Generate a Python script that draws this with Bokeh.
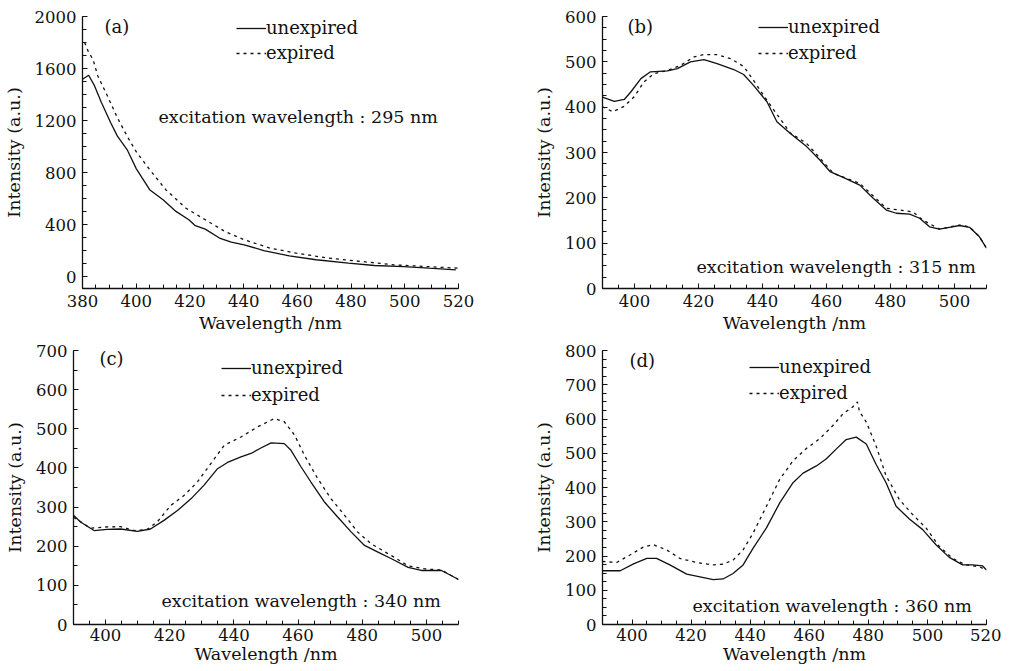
from bokeh.plotting import figure
from bokeh.layouts import column, row
from bokeh.models import Range1d, SingleIntervalTicker, Legend, LegendItem, Label
from bokeh.embed import file_html
from bokeh.resources import INLINE

# ---------------- data ----------------
# (a) excitation 295 nm
a_unexp_x = [380, 382.3, 384.5, 387, 390.5, 393, 396.6, 400, 405, 410, 414.8, 419.6, 422, 425.7,
             431, 435.4, 440.2, 447.5, 457, 467, 479, 488.7, 499.6, 509, 519]
a_unexp_y = [1517, 1548, 1466, 1340, 1183, 1080, 977, 830, 668, 591, 501, 437, 391, 365,
             296, 265, 244, 200, 159, 129, 103, 85, 77, 64, 51]
a_exp_x = [380.8, 382.3, 383.9, 385.7, 389.3, 393, 396.6, 400, 405, 411, 418.4, 425.7, 433,
           440.2, 449.9, 459.6, 471.7, 483.8, 496, 508, 520]
a_exp_y = [1800, 1723, 1671, 1543, 1388, 1221, 1080, 960, 823, 668, 527, 437, 347,
           283, 218, 180, 141, 116, 90, 77, 64]

# (b) excitation 315 nm
b_unexp_x = [390, 393.7, 396.8, 398.9, 402, 405, 410.3, 413.4, 417.5, 421.7, 425.8, 431, 434.1,
             437.2, 441.4, 444.5, 448.7, 453.8, 458, 461.1, 465.2, 470.4, 474.6, 478.7, 481.8,
             486, 489.1, 492.2, 495.3, 498.4, 501.6, 504.7, 507.8, 510]
b_unexp_y = [422, 413, 417, 434, 463, 478, 480, 485, 500, 505, 496, 483, 472,
             448, 412, 368, 342, 313, 283, 258, 245, 228, 199, 173, 166,
             164, 155, 136, 131, 135, 139, 135, 114, 89]
b_exp_x = [390, 393.2, 396.8, 399.9, 403, 406.1, 410.3, 414.4, 418.6, 421.7, 425.8, 430, 434.1,
           437.2, 441.4, 448.7, 453.8, 458, 462.2, 470.4, 478.7, 487, 490.1, 495.3, 501.6,
           504.7, 507.8, 510]
b_exp_y = [401, 390, 402, 423, 456, 474, 481, 492, 511, 516, 516, 507, 490,
           459, 415, 343, 320, 287, 254, 232, 177, 169, 151, 131, 140,
           136, 114, 89]

# (c) excitation 340 nm
c_unexp_x = [390, 392.2, 396.4, 400.5, 404.7, 409.9, 414, 418.2, 422.4, 426.6, 430.7, 434.9, 438,
             442.2, 445.3, 448.4, 451.6, 455.7, 457.8, 460.9, 464, 468.2, 472.4, 476.6, 480.7,
             484.9, 489.1, 494.3, 498.4, 504.7, 506.8, 510]
c_unexp_y = [279, 262, 240, 243, 244, 238, 244, 266, 291, 321, 356, 398, 414,
             428, 437, 451, 464, 462, 445, 403, 364, 313, 274, 236, 202,
             185, 168, 146, 138, 138, 129, 115]
c_exp_x = [390, 395.3, 399.5, 404.7, 408.9, 413, 416.1, 420.3, 424.5, 428.6, 432.8, 437, 442.2,
           447.4, 452.6, 455.7, 458.9, 462, 466.1, 470.3, 474.5, 478.6, 482.8, 489.1, 494.3,
           499.5, 504.7, 510]
c_exp_y = [274, 246, 249, 250, 240, 243, 262, 304, 330, 364, 411, 458, 479,
           505, 526, 518, 484, 432, 373, 321, 279, 236, 206, 176, 150,
           142, 139, 115]

# (d) excitation 360 nm
d_unexp_x = [390, 396, 400.5, 405, 408.3, 412.8, 418.5, 423, 427.5, 430.8, 434.2, 437.6, 441,
             445.5, 450, 454.5, 457.9, 462.4, 465.7, 469.1, 472.5, 475.9, 479.3, 482.6, 486,
             489.4, 493.9, 498.4, 502.9, 507.4, 511.9, 515.3, 518.7, 520]
d_unexp_y = [157, 157, 177, 193, 193, 174, 147, 139, 131, 133, 149, 174, 223,
             282, 355, 414, 442, 463, 483, 512, 540, 547, 527, 468, 414,
             345, 308, 277, 233, 196, 174, 174, 171, 159]
d_exp_x = [390, 394.8, 399.3, 403.8, 407.2, 411.7, 416.2, 421.8, 427.5, 430.8, 434.2, 437.6, 441,
           445.5, 450, 454.5, 459, 463.5, 468, 471.4, 474.7, 476.3, 477, 479.3, 482.6, 486,
           490.5, 495, 499.5, 504, 508.5, 513, 517.5, 520]
d_exp_y = [184, 181, 203, 226, 233, 218, 193, 181, 174, 176, 188, 218, 267,
           345, 424, 478, 514, 542, 581, 615, 635, 650, 622, 591, 522, 434,
           365, 321, 282, 228, 193, 174, 169, 159]

series_labels = ["unexpired", "expired"]
panel_tags = ["(a)", "(b)", "(c)", "(d)"]
annotations = ["excitation wavelength : 295 nm", "excitation wavelength : 315 nm",
               "excitation wavelength : 340 nm", "excitation wavelength : 360 nm"]
x_label = "Wavelength /nm"
y_label = "Intensity (a.u.)"

FONT = "DejaVu Serif"
INK = "#111111"


def make_panel(ux, uy, ex, ey, xr, yr, yint, yminor, tag, note, cfg):
    p = figure(width=cfg["w"], height=cfg["h"], output_backend="svg", toolbar_location=None,
               x_range=Range1d(*xr), y_range=Range1d(*yr),
               min_border_left=cfg["bl"], min_border_right=cfg["br"],
               min_border_top=cfg["bt"], min_border_bottom=cfg["bb"])
    p.outline_line_color = None
    p.grid.visible = False
    p.background_fill_color = "white"
    p.border_fill_color = "white"

    p.xaxis.ticker = SingleIntervalTicker(interval=20, num_minor_ticks=4)
    p.yaxis.ticker = SingleIntervalTicker(interval=yint, num_minor_ticks=yminor)
    for ax in (p.xaxis[0], p.yaxis[0]):
        ax.axis_line_color = INK
        ax.axis_line_width = 1.3
        ax.major_tick_line_color = INK
        ax.minor_tick_line_color = INK
        ax.major_tick_in = 5
        ax.major_tick_out = 0
        ax.minor_tick_in = 4
        ax.minor_tick_out = 0
        ax.major_label_text_font = FONT
        ax.major_label_text_font_size = "16.5px"
        ax.major_label_text_color = INK
        ax.axis_label_text_font = FONT
        ax.axis_label_text_font_size = "17.5px"
        ax.axis_label_text_font_style = "normal"
        ax.axis_label_text_color = INK
    p.xaxis.axis_label = x_label
    p.yaxis.axis_label = y_label
    p.xaxis.major_label_standoff = cfg["xls"]
    p.xaxis.axis_label_standoff = cfg["xas"]
    p.yaxis.major_label_standoff = 6
    p.yaxis.axis_label_standoff = 8

    r1 = p.line(ux, uy, line_color=INK, line_width=1.3)
    r2 = p.line(ex, ey, line_color=INK, line_width=1.3, line_dash="3 4")

    leg = Legend(items=[LegendItem(label=series_labels[0], renderers=[r1]),
                        LegendItem(label=series_labels[1], renderers=[r2])],
                 location=cfg["leg"], orientation="vertical", padding=0, margin=0,
                 spacing=cfg["sp"], glyph_width=30, glyph_height=20, label_height=20,
                 label_standoff=0, label_text_font=FONT, label_text_font_size="18px",
                 label_text_color=INK, border_line_alpha=0, background_fill_alpha=0)
    p.add_layout(leg)

    p.add_layout(Label(x=cfg["tag"][0], y=cfg["tag"][1], x_units="screen", y_units="screen",
                       text=tag, text_font=FONT, text_font_size="18px", text_color=INK,
                       text_baseline="middle", text_align="left"))
    p.add_layout(Label(x=cfg["note"][0], y=cfg["note"][1], x_units="screen", y_units="screen",
                       text=note, text_font=FONT, text_font_size="17.5px", text_color=INK,
                       text_baseline="middle", text_align="left"))
    return p


cfg_a = dict(w=499, h=335, bl=73, br=41, bt=16, bb=47, xls=6, xas=3, leg=(154, 225), sp=4,
             tag=(22, 262), note=(76, 172))
cfg_b = dict(w=502, h=335, bl=103, br=15, bt=15, bb=47, xls=6, xas=3, leg=(156, 225), sp=5,
             tag=(25, 262), note=(94, 22))
cfg_c = dict(w=499, h=333, bl=73, br=41, bt=15, bb=42, xls=4, xas=0, leg=(148, 219), sp=6,
             tag=(26, 266), note=(88, 24))
cfg_d = dict(w=502, h=333, bl=103, br=15, bt=15, bb=44, xls=4, xas=0, leg=(147, 221), sp=5,
             tag=(27, 264), note=(90, 19))

pa = make_panel(a_unexp_x, a_unexp_y, a_exp_x, a_exp_y, (380, 520), (-92, 2000), 400, 4,
                panel_tags[0], annotations[0], cfg_a)
pb = make_panel(b_unexp_x, b_unexp_y, b_exp_x, b_exp_y, (390, 510), (0, 600), 100, 4,
                panel_tags[1], annotations[1], cfg_b)
pc = make_panel(c_unexp_x, c_unexp_y, c_exp_x, c_exp_y, (390, 510), (0, 700), 100, 2,
                panel_tags[2], annotations[2], cfg_c)
pd_ = make_panel(d_unexp_x, d_unexp_y, d_exp_x, d_exp_y, (390, 520), (0, 800), 100, 4,
                 panel_tags[3], annotations[3], cfg_d)

layout = column(row(pa, pb, spacing=0), row(pc, pd_, spacing=0), spacing=0)

open("out.html", "w").write(file_html(layout, INLINE))
